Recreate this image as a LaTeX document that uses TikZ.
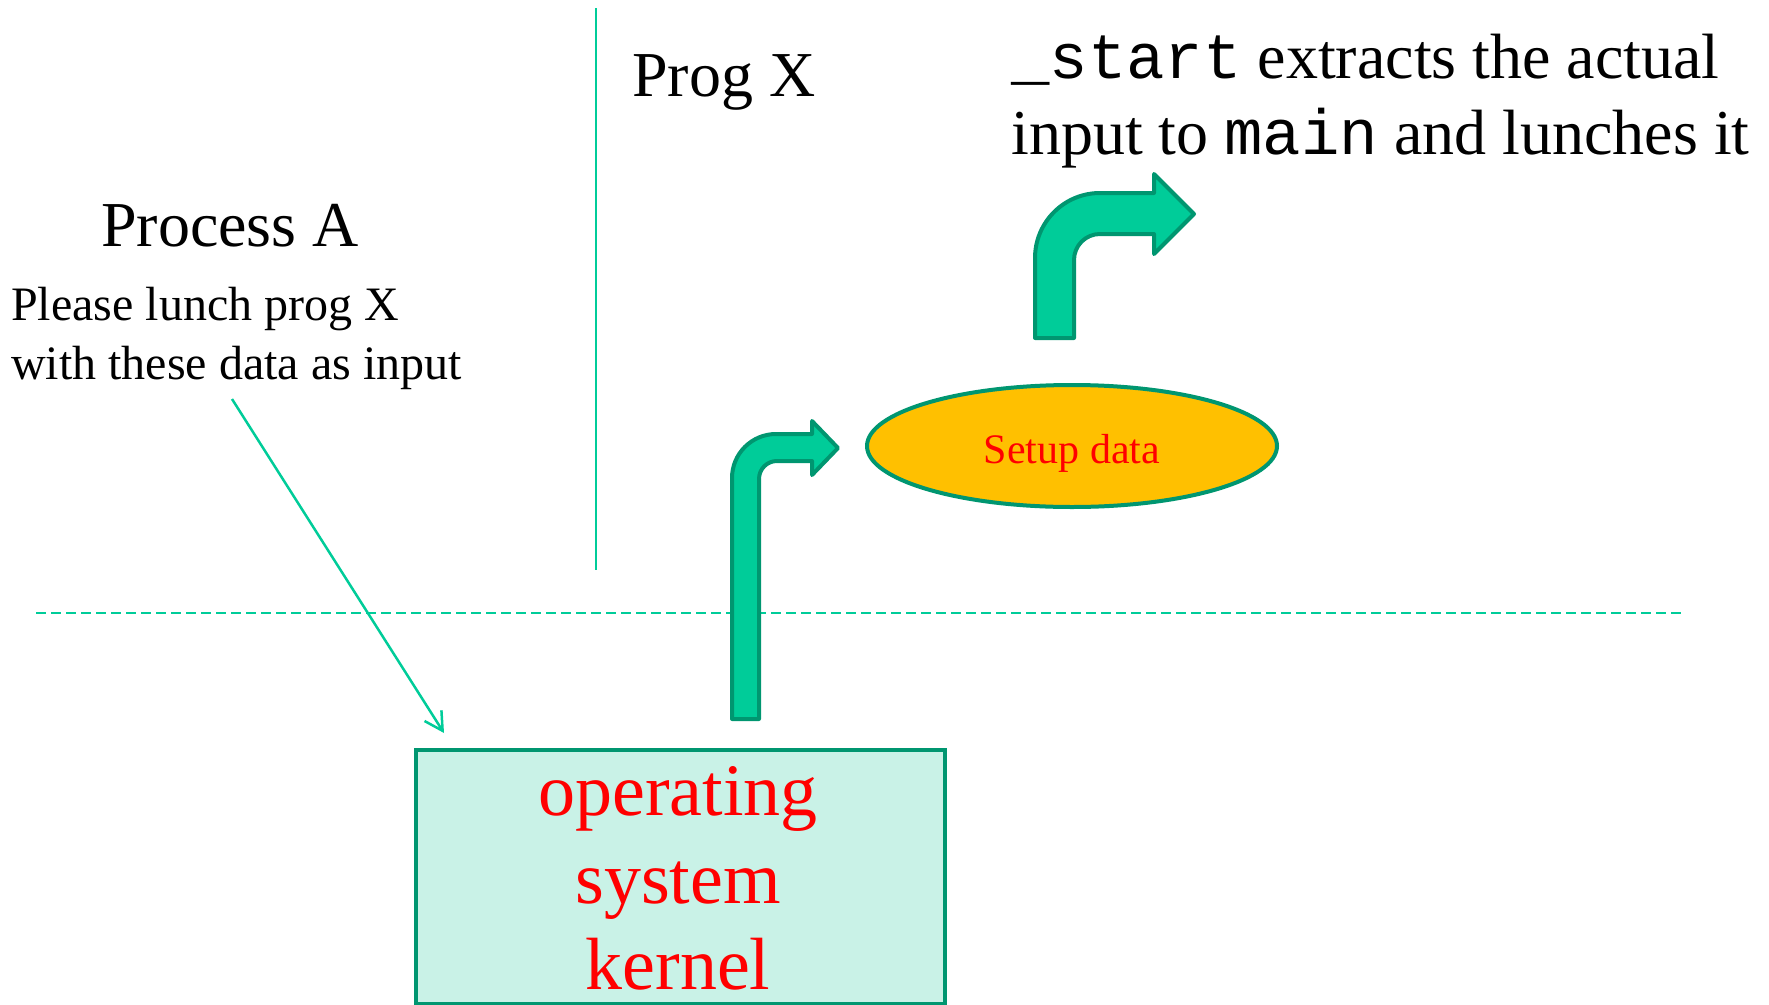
\documentclass[tikz,border=0pt]{standalone}
\usepackage{fontspec}
\setmainfont{Liberation Serif}
\setmonofont{Liberation Mono}
\usetikzlibrary{shapes.geometric,arrows.meta}

\definecolor{linegreen}{HTML}{00CC99}
\definecolor{edgegreen}{HTML}{009670}
\definecolor{kernelfill}{HTML}{C9F2E7}
\definecolor{setupfill}{HTML}{FFC000}
\definecolor{kernelred}{HTML}{FF0000}

\tikzset{
  label64/.style={anchor=base west, inner sep=0pt, font=\fontsize{64}{77}\selectfont},
  label48/.style={anchor=base west, inner sep=0pt, font=\fontsize{48}{58}\selectfont},
  kerneltext/.style={anchor=base, inner sep=0pt, text=kernelred, font=\fontsize{74}{88}\selectfont},
  kernelbox/.style={draw=edgegreen, fill=kernelfill, line width=4pt, inner sep=0pt},
  setupnode/.style={ellipse, draw=edgegreen, fill=setupfill, line width=4pt, inner sep=0pt},
  setuptext/.style={anchor=base, inner sep=0pt, text=kernelred, font=\fontsize{42}{50}\selectfont},
  bentarrow/.style={draw=edgegreen, fill=linegreen, line width=4pt, line join=round},
  thinline/.style={draw=linegreen, line width=2pt},
  callout/.style={draw=linegreen, line width=2.5pt,
    -{Straight Barb[length=18pt,width=20pt,line width=2.5pt]}}
}

\begin{document}
\begin{tikzpicture}[x=1pt, y=-1pt]
  \path[use as bounding box] (0,0) rectangle (1769,1004);
  \clip (0,0) rectangle (1769,1004);

  % separators
  \coordinate (vtop) at (596,8);
  \coordinate (vbot) at (596,570);
  \draw[thinline] (vtop) -- (vbot);
  \coordinate (dleft) at (36,613);
  \coordinate (dright) at (1684,613);
  \draw[thinline, dash pattern=on 10pt off 5pt] (dleft) -- (dright);

  % labels
  \node[label64] (progx) at (632,96) {Prog X};
  \node[label64] (startl1) at (1011,78) {\texttt{\_start} extracts the actual};
  \node[label64] (startl2) at (1011,154) {input to \texttt{main} and lunches it};
  \node[label64] (proca) at (101,246) {Process A};
  \node[label48] (req1) at (11,320) {Please lunch prog X};
  \node[label48] (req2) at (11,379) {with these data as input};

  % kernel box
  \node[kernelbox, anchor=north west, minimum width=529pt, minimum height=254pt] (kernel) at (414,748) {};
  \node[kerneltext] (os1) at (678,815) {operating};
  \node[kerneltext] (os2) at (678,903) {system};
  \node[kerneltext] (os3) at (678,989) {kernel};

  % request pointer
  \coordinate (reqfrom) at (232,399);
  \coordinate (reqto) at (444,733);
  \draw[callout] (reqfrom) -- (reqto);

  % setup data
  \node[setupnode, minimum width=410pt, minimum height=122pt] (setup) at (1072,446) {};
  \node[setuptext] (setuplabel) at (1072,463) {Setup data};

  % bent arrow out of the kernel
  \draw[bentarrow] (732,719) -- (732,478)
     .. controls (732,453.7) and (751.7,434) .. (776,434)
     -- (812,434) -- (812,421) -- (838,448) -- (812,475) -- (812,461) -- (777,461)
     .. controls (767,461) and (759,469) .. (759,479)
     -- (759,719) -- cycle;

  % bent arrow towards main
  \draw[bentarrow] (1035,338) -- (1035,258)
     .. controls (1035,222.1) and (1064.1,193) .. (1100,193)
     -- (1154,193) -- (1154,174) -- (1194,214) -- (1154,254) -- (1154,234) -- (1100,234)
     .. controls (1085.6,234) and (1074,245.6) .. (1074,260)
     -- (1074,338) -- cycle;
\end{tikzpicture}
\end{document}
